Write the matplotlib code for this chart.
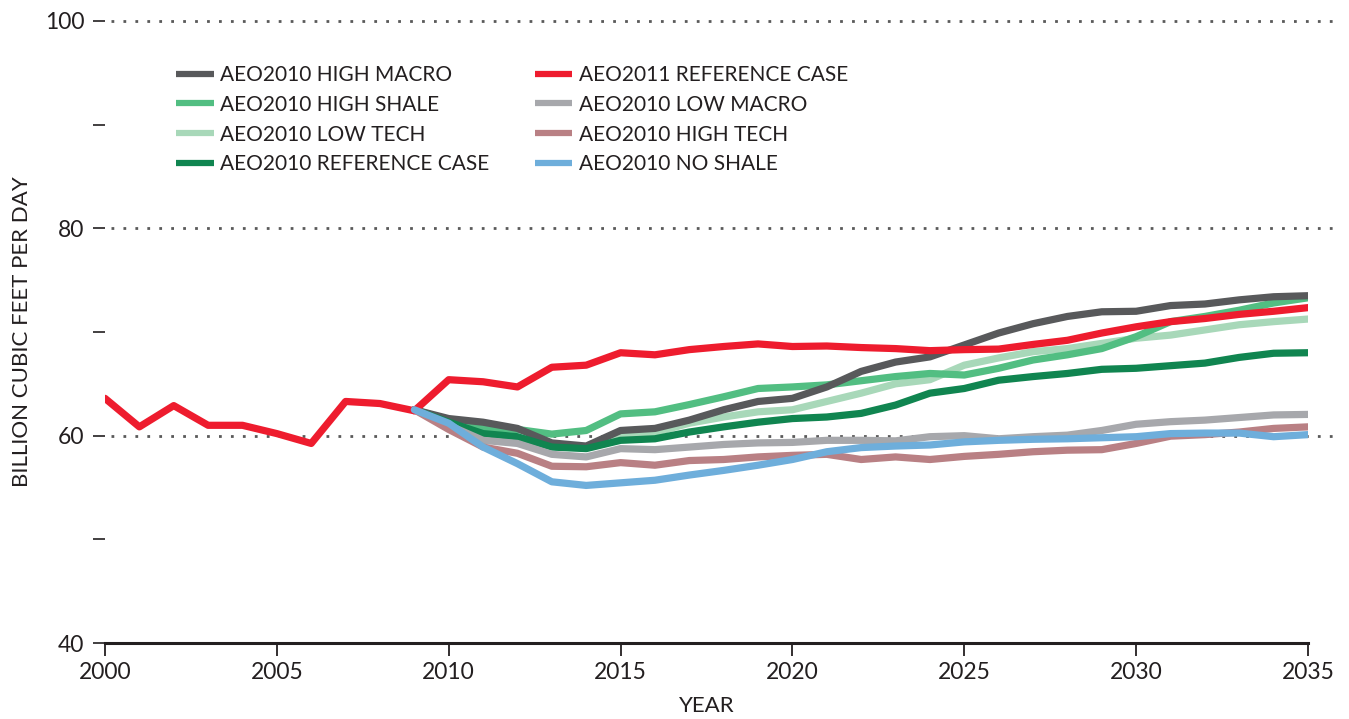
import matplotlib
matplotlib.use('Agg')
import matplotlib.pyplot as plt

plt.rcParams['font.family'] = ['Lato', 'DejaVu Sans']

# history, 2000-2009
hist_years = list(range(2000, 2010))
hist_vals = [63.6, 60.85, 62.9, 61.0, 61.0, 60.2, 59.25, 63.3, 63.1, 62.4]

# projections, 2009-2035
proj_years = list(range(2009, 2036))
aeo2011_ref = [62.4, 65.4, 65.2, 64.7, 66.6, 66.8, 68.0, 67.8, 68.3, 68.6, 68.85, 68.6, 68.65, 68.5,
               68.4, 68.2, 68.3, 68.35, 68.8, 69.2, 69.9, 70.5, 71.0, 71.3, 71.7, 72.0, 72.35]
high_macro = [62.5, 61.65, 61.3, 60.7, 59.3, 59.0, 60.5, 60.7, 61.5, 62.5, 63.3, 63.6, 64.7, 66.2,
              67.1, 67.6, 68.75, 69.9, 70.8, 71.5, 71.95, 72.0, 72.55, 72.7, 73.1, 73.4, 73.5]
high_shale = [62.5, 61.5, 60.7, 60.6, 60.15, 60.5, 62.1, 62.3, 63.0, 63.75, 64.55, 64.7, 64.9, 65.3,
              65.7, 66.0, 65.85, 66.5, 67.3, 67.8, 68.4, 69.55, 71.0, 71.5, 72.1, 72.8, 73.3]
low_tech = [62.5, 61.5, 60.3, 59.8, 59.0, 58.9, 60.0, 60.3, 61.2, 61.8, 62.3, 62.5, 63.3, 64.1,
            65.0, 65.4, 66.8, 67.5, 68.1, 68.4, 68.9, 69.4, 69.7, 70.2, 70.7, 71.0, 71.25]
ref_2010 = [62.5, 61.3, 60.2, 59.9, 58.9, 58.75, 59.55, 59.7, 60.35, 60.85, 61.3, 61.65, 61.8, 62.15,
            62.95, 64.1, 64.55, 65.35, 65.7, 66.0, 66.4, 66.5, 66.75, 67.0, 67.55, 67.95, 68.0]
low_macro = [62.5, 61.0, 59.55, 59.25, 58.2, 57.95, 58.75, 58.65, 58.9, 59.15, 59.3, 59.35, 59.55, 59.55,
             59.5, 59.9, 60.0, 59.7, 59.9, 60.05, 60.5, 61.1, 61.35, 61.5, 61.75, 62.0, 62.05]
high_tech = [62.5, 60.6, 58.9, 58.3, 57.05, 57.0, 57.4, 57.15, 57.6, 57.7, 57.95, 58.1, 58.2, 57.7,
             57.95, 57.7, 58.0, 58.2, 58.45, 58.6, 58.65, 59.25, 59.95, 60.1, 60.35, 60.7, 60.85]
no_shale = [62.5, 61.2, 58.9, 57.3, 55.55, 55.2, 55.45, 55.7, 56.2, 56.65, 57.15, 57.7, 58.45, 58.85,
            59.0, 59.1, 59.4, 59.55, 59.65, 59.7, 59.8, 59.9, 60.2, 60.25, 60.25, 59.9, 60.1]

fig = plt.figure(figsize=(13.49, 7.19), dpi=100)
ax = fig.add_axes([105/1349, 76/719, 1203/1349, 622/719])

# dotted grid lines
for v in [60, 80, 100]:
  ax.axhline(v, xmin=0.005, xmax=1.022, color='#5a5a5a', lw=2.0,
             linestyle=(0, (1, 3.3)), clip_on=False, zorder=1)

lw = 5.2
line_kw = dict(lw=lw, solid_capstyle='round', solid_joinstyle='round')
h_lt, = ax.plot(proj_years, low_tech, color='#a8d8b9', zorder=2, **line_kw)
h_hs, = ax.plot(proj_years, high_shale, color='#52be82', zorder=3, **line_kw)
h_hm, = ax.plot(proj_years, high_macro, color='#58595b', zorder=4, **line_kw)
h_rf, = ax.plot(proj_years, ref_2010, color='#108550', zorder=5, **line_kw)
h_lm, = ax.plot(proj_years, low_macro, color='#a7a8ac', zorder=6, **line_kw)
h_ht, = ax.plot(proj_years, high_tech, color='#b98084', zorder=7, **line_kw)
ax.plot(hist_years, hist_vals, color='#ee1c2e', zorder=8, **line_kw)
h_r11, = ax.plot(proj_years, aeo2011_ref, color='#ee1c2e', zorder=8, **line_kw)
h_ns, = ax.plot(proj_years, no_shale, color='#6eaedb', zorder=9, **line_kw)

handles = [h_hm, h_hs, h_lt, h_rf, h_r11, h_lm, h_ht, h_ns]
labels = ['AEO2010 HIGH MACRO', 'AEO2010 HIGH SHALE', 'AEO2010 LOW TECH',
          'AEO2010 REFERENCE CASE', 'AEO2011 REFERENCE CASE', 'AEO2010 LOW MACRO',
          'AEO2010 HIGH TECH', 'AEO2010 NO SHALE']
leg = ax.legend(handles, labels, ncol=2, loc='upper left',
                bbox_to_anchor=(176/1349, 1 - 65/719), bbox_transform=fig.transFigure,
                frameon=False, fontsize=15, handlelength=1.8, handletextpad=0.3,
                labelspacing=0.47, columnspacing=2.2, borderpad=0, borderaxespad=0)
for t in leg.get_texts():
  t.set_color('#231f20')
for l in leg.get_lines():
  l.set_linewidth(4.5)
  l.set_solid_capstyle('butt')

ax.set_xlim(2000, 2035)
ax.set_ylim(40, 100)
ax.set_xticks(range(2000, 2036, 5))
ax.set_yticks([40, 60, 80, 100])
ax.set_yticks([50, 70, 90], minor=True)

for s in ['top', 'right', 'left']:
  ax.spines[s].set_visible(False)
ax.spines['bottom'].set_color('#231f20')
ax.spines['bottom'].set_linewidth(2.2)

ax.tick_params(axis='x', direction='out', length=9, width=1.3, color='#231f20',
               labelsize=16.5, labelcolor='#231f20', pad=5)
ax.tick_params(axis='y', which='both', direction='out', length=9, width=1.2, color='#231f20',
               labelsize=16.5, labelcolor='#231f20', pad=6)

ax.set_xlabel('YEAR', fontsize=16, color='#231f20', labelpad=9)
ax.set_ylabel('BILLION CUBIC FEET PER DAY', fontsize=16, color='#231f20', labelpad=9)

plt.savefig('out.png', dpi=100)
